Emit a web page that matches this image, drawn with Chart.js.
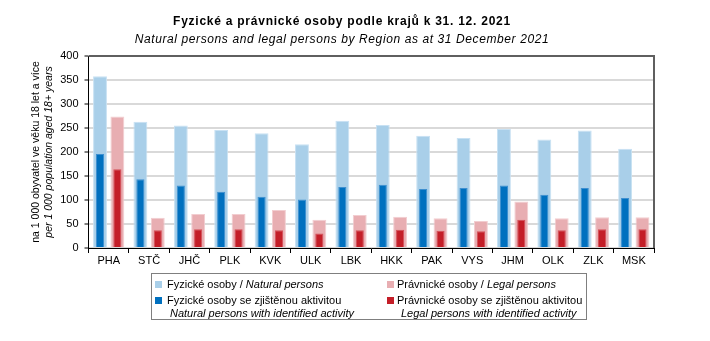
<!DOCTYPE html>
<html>
<head>
<meta charset="utf-8">
<script src="https://cdn.jsdelivr.net/npm/chart.js@4"></script>
<style>
  html, body { margin: 0; padding: 0; background: #fff; }
  #wrap { position: relative; width: 710px; height: 341px; font-family: "Liberation Sans", Arial, sans-serif; color: #000; }
  canvas { position: absolute; left: 0; top: 0; }
  .title { position: absolute; left: 0; width: 684px; text-align: center; white-space: nowrap; font-size: 12px; line-height: 14px; }
  #t1 { top: 14px; font-weight: bold; letter-spacing: 0.75px; }
  #t2 { top: 32px; font-style: italic; letter-spacing: 0.6px; }
  #legend { position: absolute; left: 151px; top: 273px; width: 436px; height: 47px; border: 1px solid #7f7f7f; box-sizing: border-box;
    font-size: 11px; }
  .it { position: absolute; white-space: nowrap; line-height: 13px; }
  .sq { position: absolute; width: 7px; height: 7px; }
  i { font-style: italic; }
</style>
</head>
<body>
<div id="wrap">
  <canvas id="c" width="710" height="341"></canvas>
  <div class="title" id="t1">Fyzické a právnické osoby podle krajů k 31. 12. 2021</div>
  <div class="title" id="t2">Natural persons and legal persons by Region as at 31 December 2021</div>
  <div id="legend">
    <div class="sq" style="left:3px;top:7px;background:#a9cfe9"></div>
    <div class="it" style="left:15px;top:4px">Fyzické osoby / <i>Natural persons</i></div>
    <div class="sq" style="left:235px;top:7px;background:#e8aeb2"></div>
    <div class="it" style="left:245px;top:4px">Právnické osoby / <i>Legal persons</i></div>
    <div class="sq" style="left:3px;top:23px;background:#0070bf"></div>
    <div class="it" style="left:15px;top:20px">Fyzické osoby se zjištěnou aktivitou</div>
    <div class="it" style="left:18px;top:33px"><i>Natural persons with identified activity</i></div>
    <div class="sq" style="left:235px;top:23px;background:#c41e28"></div>
    <div class="it" style="left:245px;top:20px">Právnické osoby se zjištěnou aktivitou</div>
    <div class="it" style="left:249px;top:33px"><i>Legal persons with identified activity</i></div>
  </div>
</div>
<script>
const categories = ['PHA','STČ','JHČ','PLK','KVK','ULK','LBK','HKK','PAK','VYS','JHM','OLK','ZLK','MSK'];
const natural = [358, 263, 255, 246, 239, 216, 265, 256, 234, 229, 248, 226, 245, 207];
const naturalActive = [196, 143, 130, 117, 107, 101, 127, 132, 123, 125, 130, 111, 125, 104];
const legal = [274, 63, 71, 71, 79, 59, 69, 65, 62, 56, 97, 62, 64, 64];
const legalActive = [164, 37, 39, 39, 37, 30, 37, 38, 36, 35, 59, 37, 39, 39];
const yTicks = [0, 50, 100, 150, 200, 250, 300, 350, 400];

const FONT = '"Liberation Sans", Arial, sans-serif';

const frame = {
  id: 'frame',
  afterDraw(chart) {
    const a = chart.chartArea, ctx = chart.ctx;
    ctx.save();
    ctx.strokeStyle = '#5f5f5f';
    ctx.lineWidth = 2;
    ctx.beginPath();
    ctx.moveTo(a.left, a.top);
    ctx.lineTo(a.right, a.top);
    ctx.lineTo(a.right, a.bottom);
    ctx.stroke();
    ctx.restore();
  }
};

new Chart(document.getElementById('c'), {
  type: 'bar',
  data: {
    labels: categories,
    datasets: [
      { label: 'Fyzické osoby se zjištěnou aktivitou', data: naturalActive, stack: 'natural', backgroundColor: '#0070bf', borderColor: '#3d8fd0', borderWidth: 1, order: 0, categoryPercentage: 0.86, barPercentage: 0.47 },
      { label: 'Právnické osoby se zjištěnou aktivitou', data: legalActive, stack: 'legal', backgroundColor: '#c41e28', borderColor: '#d4505a', borderWidth: 1, order: 0, categoryPercentage: 0.86, barPercentage: 0.47 },
      { label: 'Fyzické osoby', data: natural, stack: 'natural', backgroundColor: '#a9cfe9', borderColor: '#c8e1f3', borderWidth: 1, order: 1, categoryPercentage: 0.86, barPercentage: 0.8 },
      { label: 'Právnické osoby', data: legal, stack: 'legal', backgroundColor: '#e8aeb2', borderColor: '#f2cdd0', borderWidth: 1, order: 1, categoryPercentage: 0.86, barPercentage: 0.8 }
    ]
  },
  options: {
    responsive: false,
    animation: false,
    layout: { padding: { left: 30, right: 56, top: 56, bottom: 0 } },
    plugins: {
      legend: { display: false },
      tooltip: { enabled: false }
    },
    scales: {
      x: {
        type: 'category', offset: true,
        grid: { offset: true, drawOnChartArea: false, tickLength: 5, color: '#000' },
        border: { color: '#000' },
        ticks: { color: '#000', font: { family: FONT, size: 11 }, padding: 1, maxRotation: 0 },
        afterFit(s) { s.height = 93; }
      },
      y: {
        position: 'left', weight: 0, min: 0, max: 400, stacked: false,
        afterBuildTicks(s) { s.ticks = yTicks.map(v => ({ value: v })); },
        grid: { color: '#d9d9d9', lineWidth: 2, tickLength: 4, tickColor: '#000', tickWidth: 1 },
        border: { color: '#000', width: 1 },
        ticks: { color: '#000', font: { family: FONT, size: 11 }, padding: 6 },
        title: { display: true, text: 'per 1 000 population aged 18+ years', color: '#000',
          font: { family: FONT, size: 10.5, style: 'italic' }, padding: { top: 0, bottom: 0 } },
        afterFit(s) { s.width = 45.5; }
      },
      yTitle: {
        type: 'linear', position: 'left', weight: 1, display: true,
        grid: { display: false }, border: { display: false },
        ticks: { display: false },
        title: { display: true, text: 'na 1 000 obyvatel ve věku 18 let a více', color: '#000',
          font: { family: FONT, size: 10.5 }, padding: { top: 0, bottom: 0 } },
        afterFit(s) { s.width = 13; }
      }
    }
  },
  plugins: [frame]
});
</script>
</body>
</html>
